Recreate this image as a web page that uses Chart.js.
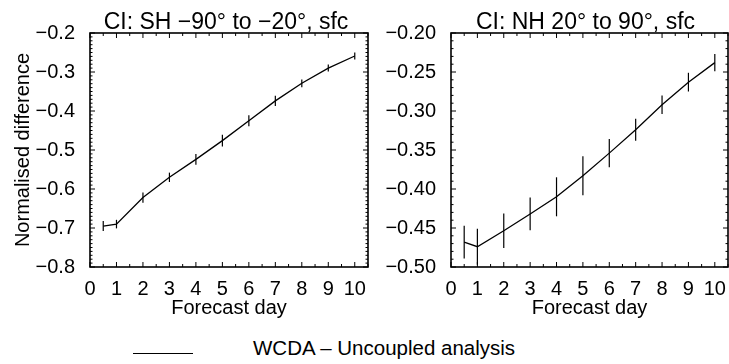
<!DOCTYPE html>
<html>
<head>
<meta charset="utf-8">
<script src="https://cdn.jsdelivr.net/npm/chart.js@4"></script>
<style>
body { margin:0; width:729px; height:364px; background:#fff; position:relative; overflow:hidden; font-family:"Liberation Sans", Arial, sans-serif; color:#000; }
.box { position:absolute; top:0; height:320px; }
.title { position:absolute; top:10px; font-size:23px; line-height:23px; text-align:center; white-space:nowrap; }
#legendLine { position:absolute; left:133px; top:353px; width:60px; height:0; border-top:1.3px solid #000; }
#legendText { position:absolute; left:253px; top:336px; font-size:20.5px; line-height:24px; white-space:nowrap; }
</style>
</head>
<body>
<div class="box" style="left:0;width:372px"><canvas id="shChart"></canvas></div>
<div class="box" style="left:361px;width:368px"><canvas id="nhChart"></canvas></div>
<div class="title" style="left:90px;width:272px">CI: SH −90° to −20°, sfc</div>
<div class="title" style="left:451px;width:269px">CI: NH 20° to 90°, sfc</div>
<div id="legendLine"></div>
<div id="legendText">WCDA – Uncoupled analysis</div>
<script>
const days = [0.5, 1, 2, 3, 4, 5, 6, 7, 8, 9, 10];
const shValues = [-0.695, -0.690, -0.622, -0.570, -0.524, -0.476, -0.425, -0.374, -0.329, -0.290, -0.259];
const shErrors = [0.013, 0.011, 0.013, 0.012, 0.014, 0.015, 0.014, 0.013, 0.010, 0.009, 0.009];
const nhValues = [-0.468, -0.474, -0.4535, -0.432, -0.410, -0.383, -0.354, -0.324, -0.292, -0.263, -0.238];
const nhErrors = [0.021, 0.023, 0.022, 0.021, 0.025, 0.025, 0.018, 0.014, 0.012, 0.012, 0.011];
const xTicks = [0, 1, 2, 3, 4, 5, 6, 7, 8, 9, 10];

const FONT = '"Liberation Sans", Arial, sans-serif';

// box, inward ticks on all four sides, error bars
const frame = {
    id: 'frame',
    afterDatasetsDraw(chart, args, opts) {
        const {ctx, chartArea: a, scales: {x, y}} = chart;
        ctx.save();
        ctx.strokeStyle = '#000';

        ctx.lineWidth = 1.2;
        chart.data.datasets[0].data.forEach((p, i) => {
            const px = x.getPixelForValue(p.x);
            ctx.beginPath();
            ctx.moveTo(px, Math.min(a.bottom, y.getPixelForValue(p.y - opts.errors[i])));
            ctx.lineTo(px, y.getPixelForValue(p.y + opts.errors[i]));
            ctx.stroke();
        });

        ctx.lineWidth = 1;
        for (let k = 0; k <= 21; k++) {
            const px = x.getPixelForValue(k * 0.5);
            const len = k % 2 === 0 ? 5 : 3;
            ctx.beginPath();
            ctx.moveTo(px, a.bottom); ctx.lineTo(px, a.bottom - len);
            ctx.moveTo(px, a.top); ctx.lineTo(px, a.top + len);
            ctx.stroke();
        }
        const n = Math.round((y.max - y.min) / 0.01);
        const every = Math.round(opts.major / 0.01);
        for (let k = 0; k <= n; k++) {
            const py = y.getPixelForValue(y.min + k * 0.01);
            const len = k % every === 0 ? 5 : 2.5;
            ctx.beginPath();
            ctx.moveTo(a.left, py); ctx.lineTo(a.left + len, py);
            ctx.moveTo(a.right, py); ctx.lineTo(a.right - len, py);
            ctx.stroke();
        }

        ctx.lineWidth = 1.6;
        ctx.strokeRect(a.left, a.top, a.right - a.left, a.bottom - a.top);
        ctx.restore();
    }
};

function makeChart(id, values, errors, yMin, yMax, yStep, decimals, yTitle, padRight) {
    return new Chart(document.getElementById(id), {
        type: 'line',
        data: {
            datasets: [{
                data: days.map((d, i) => ({x: d, y: values[i]})),
                borderColor: '#000',
                borderWidth: 1.3,
                pointRadius: 0,
                tension: 0
            }]
        },
        options: {
            responsive: true,
            maintainAspectRatio: false,
            animation: false,
            layout: {padding: {top: 33, right: padRight, bottom: 0, left: 0}},
            plugins: {
                legend: {display: false},
                tooltip: {enabled: false},
                frame: {errors: errors, major: yStep}
            },
            scales: {
                x: {
                    type: 'linear',
                    min: 0,
                    max: 10.5,
                    afterBuildTicks: s => { s.ticks = xTicks.map(v => ({value: v})); },
                    afterFit: s => { s.height = 53; },
                    grid: {display: false},
                    border: {display: false},
                    ticks: {color: '#000', padding: 2.5, maxRotation: 0, autoSkip: false,
                            font: {family: FONT, size: 20}},
                    title: {display: true, text: 'Forecast day', color: '#000',
                            font: {family: FONT, size: 20}, padding: {top: 0, bottom: 0}}
                },
                y: {
                    min: yMin,
                    max: yMax,
                    afterFit: s => { s.width = 90; },
                    grid: {display: false},
                    border: {display: false},
                    ticks: {color: '#000', padding: 7, stepSize: yStep,
                            font: {family: FONT, size: 20},
                            callback: v => (v < 0 ? '\u2212' : '') + Math.abs(v).toFixed(decimals)},
                    title: {display: yTitle, text: 'Normalised difference', color: '#000',
                            font: {family: FONT, size: 20}, padding: {top: 11, bottom: 0}}
                }
            }
        },
        plugins: [frame]
    });
}

makeChart('shChart', shValues, shErrors, -0.8, -0.2, 0.1, 1, true, 4);
makeChart('nhChart', nhValues, nhErrors, -0.5, -0.2, 0.05, 2, false, 1);
</script>
</body>
</html>
